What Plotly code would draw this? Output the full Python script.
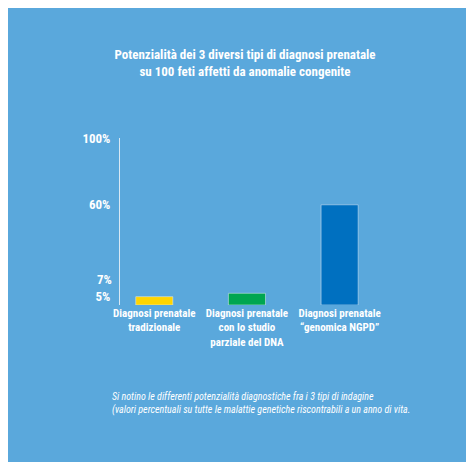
import plotly.graph_objects as go

categories = ["Diagnosi prenatale<br>tradizionale",
              "Diagnosi prenatale<br>con lo studio<br>parziale del DNA",
              "Diagnosi prenatale<br>\u201cgenomica NGPD\u201d"]
values = [5, 7, 60]
colors = ["#FFD500", "#00A651", "#0070C0"]
tick_vals = [5, 60, 100]
tick_text = ["5%", "60%", "100%"]

font = "Liberation Sans Narrow, Roboto Condensed, Arial Narrow, Arial, sans-serif"
bg = "#5AA8DC"

fig = go.Figure(go.Bar(x=list(range(len(values))), y=values, marker_color=colors,
                       width=0.4, hoverinfo="skip"))
fig.update_layout(
    width=474, height=462, paper_bgcolor=bg, plot_bgcolor=bg,
    margin=dict(l=112, r=84, t=130, b=165), showlegend=False,
    font=dict(family=font, color="white"),
    title=dict(text="<b>Potenzialità dei 3 diversi tipi di diagnosi prenatale<br>su 100 feti affetti da anomalie congenite</b>",
               x=0.5, xanchor="center", y=0.89, yanchor="middle", font=dict(size=13, color="white")),
    xaxis=dict(range=[-0.37, 2.63], tickvals=[0, 1, 2], ticktext=["<b>%s</b>" % c for c in categories],
               showgrid=False, zeroline=False, showline=False, tickfont=dict(size=11, color="white")),
    yaxis=dict(range=[0, 100], tickvals=tick_vals, ticktext=["<b>%s</b>" % t for t in tick_text],
               showgrid=False, zeroline=False, showline=True, linecolor="#D8E8F4", linewidth=1,
               tickfont=dict(size=13, color="white"), ticks="", ticklabelstandoff=6),
)
fig.add_annotation(x=0, xref="paper", xanchor="right", xshift=-6, y=7, yref="y", yshift=14,
                   text="<b>7%</b>", showarrow=False, font=dict(size=13, color="white"))
fig.add_annotation(x=0, xref="paper", xanchor="left", xshift=-10, y=-0.50, yref="paper", yanchor="top", align="left",
                   text="<i>Si notino le differenti potenzialità diagnostiche fra i 3 tipi di indagine<br>(valori percentuali su tutte le malattie genetiche riscontrabili a un anno di vita.</i>",
                   showarrow=False, font=dict(size=10, color="white"))
fig.write_html("out.html")
